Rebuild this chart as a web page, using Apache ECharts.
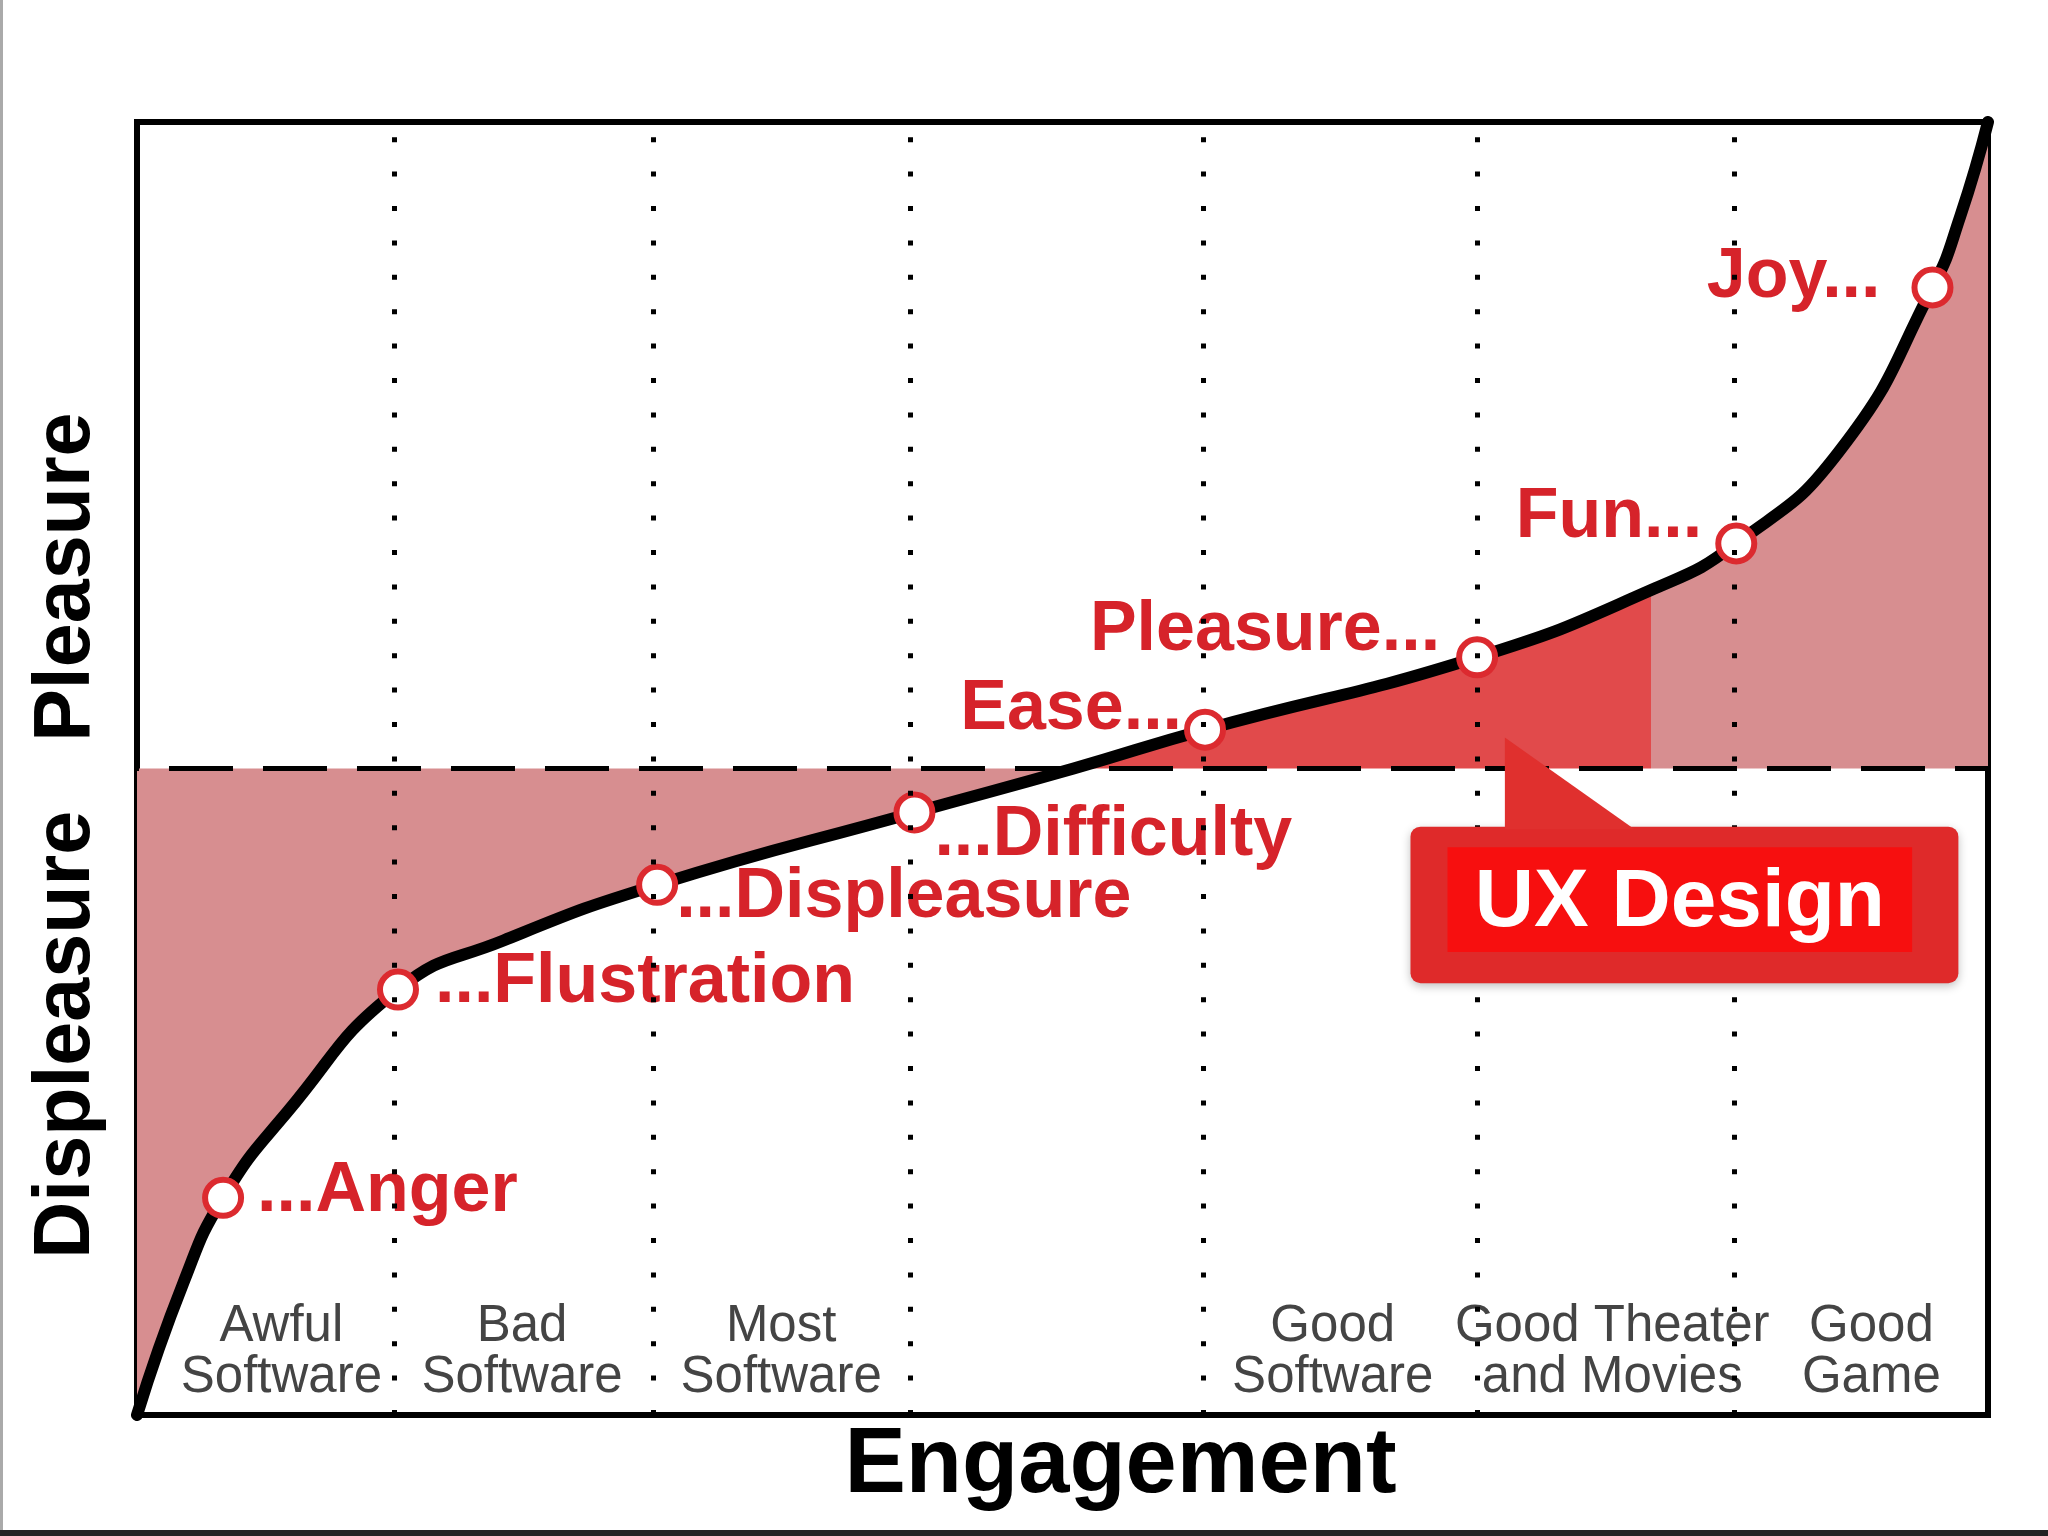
<!DOCTYPE html>
<html>
<head>
<meta charset="utf-8">
<style>
  html, body { margin: 0; padding: 0; background: #fff; }
  #chart { width: 2048px; height: 1536px; }
</style>
<script src="https://cdn.jsdelivr.net/npm/echarts@6/dist/echarts.min.js"></script>
</head>
<body>
<div id="chart"></div>
<script>
// engagement runs 0..100, pleasure -50..50
const curveX = [0, 2.5, 4.65, 8.1, 14.1, 19.8, 28.1, 42.0, 50.6, 57.7, 72.4, 81.8, 86.4, 92.0, 97.0, 98.5, 100]
const curveY = [-50, -39.8, -33.2, -26.6, -17.1, -13.3, -9.0, -3.4, 0, 3.0, 8.6, 13.8, 17.4, 24.6, 37.2, 42.7, 50]

const pointNames = ['...Anger', '...Flustration', '...Displeasure', '...Difficulty', 'Ease...', 'Pleasure...', 'Fun...', 'Joy...']
const pointX = [4.65, 14.1, 28.1, 42.0, 57.7, 72.4, 86.4, 97.0]
const pointY = [-33.2, -17.1, -9.0, -3.4, 3.0, 8.6, 17.4, 37.2]

// label placement next to each point (px from the point centre)
const labelAlign = ['left', 'left', 'left', 'left', 'right', 'right', 'right', 'right']
const labelDx = [34, 37, 19, 20, -23, -37, -34, -52]
const labelDy = [-6, -7, 13, 23, -20, -27, -26, -10]

const vLines = [13.9, 27.9, 41.8, 57.6, 72.4, 86.3]

const catNames = ['Awful\nSoftware', 'Bad\nSoftware', 'Most\nSoftware', 'Good\nSoftware', 'Good Theater\nand Movies', 'Good\nGame']
const catCenters = [7.8, 20.8, 34.8, 64.6, 79.7, 93.7]

const yNames = ['Pleasure', 'Displeasure']
const yNameAt = [14.8, -20.6]

// "UX Design" region under the curve
const uxStart = 50.6
const uxEnd = 81.8

// callout: [x0, x1, yTop, yBottom]
const calloutBox = [68.8, 98.4, -4.5, -16.6]
const calloutInner = [70.8, 95.9, -6.1, -14.2]
const calloutTip = [[73.9, 2.4], [73.9, -4.7], [80.9, -4.7]]
const calloutText = 'UX Design'

const font = '"Liberation Sans", Arial, sans-serif'
const pink = '#d78e90'
const red = '#e14a4b'

const curve = curveX.map((x, i) => [x, curveY[i]])

const points = pointX.map((x, i) => ({
  value: [x, pointY[i]],
  name: pointNames[i],
  label: {
    align: labelAlign[i],
    offset: [labelDx[i], labelDy[i]]
  }
}))

const chart = echarts.init(document.getElementById('chart'))

chart.setOption({
  animation: false,
  backgroundColor: '#fff',
  grid: {
    left: 137,
    right: 60,
    top: 122,
    bottom: 121,
    show: true,
    borderColor: '#000',
    borderWidth: 6,
    backgroundColor: 'transparent'
  },
  xAxis: {
    type: 'value',
    min: 0,
    max: 100,
    axisLine: { show: false },
    axisTick: { show: false },
    splitLine: { show: false },
    axisLabel: {
      inside: true,
      margin: 12,
      customValues: catCenters,
      formatter: (v) => catNames[catCenters.indexOf(v)] || '',
      color: '#444',
      fontFamily: font,
      fontSize: 51,
      lineHeight: 51
    },
    name: 'Engagement',
    nameLocation: 'middle',
    nameGap: 6,
    nameTextStyle: {
      color: '#000',
      fontFamily: font,
      fontWeight: 'bold',
      fontSize: 92,
      padding: [0, 0, 0, 116]
    }
  },
  yAxis: {
    type: 'value',
    min: -50,
    max: 50,
    axisLine: { show: false },
    axisTick: { show: false },
    splitLine: { show: false },
    axisLabel: {
      customValues: yNameAt,
      formatter: (v) => yNames[yNameAt.indexOf(v)] || '',
      rotate: 90,
      margin: 30,
      color: '#000',
      fontFamily: font,
      fontWeight: 'bold',
      fontSize: 79
    }
  },
  visualMap: {
    type: 'piecewise',
    show: false,
    seriesIndex: 0,
    dimension: 0,
    pieces: [
      { lt: uxStart, color: pink },
      { gte: uxStart, lt: uxEnd, color: red },
      { gte: uxEnd, color: pink }
    ]
  },
  series: [
    {
      // fill between the curve and the zero line
      type: 'line',
      data: curve,
      smooth: 0.5,
      symbol: 'none',
      lineStyle: { width: 0 },
      areaStyle: { origin: 'auto', opacity: 1 },
      silent: true,
      z: 1
    },
    {
      // zero line, with the dotted category dividers
      type: 'line',
      data: [[-3.35, 0], [100, 0]],
      clip: false,
      symbol: 'none',
      lineStyle: { color: '#000', width: 5, type: [64, 30] },
      markLine: {
        silent: true,
        symbol: ['none', 'none'],
        label: { show: false },
        lineStyle: { color: '#000', width: 5, type: [5, 29.4], cap: 'butt' },
        data: vLines.map(v => ({ xAxis: v }))
      },
      silent: true,
      z: 2
    },
    {
      type: 'line',
      data: curve,
      smooth: 0.5,
      symbol: 'none',
      lineStyle: { color: '#000', width: 12, cap: 'round' },
      silent: true,
      z: 3
    },
    {
      type: 'scatter',
      data: points,
      symbol: 'circle',
      symbolSize: 36,
      itemStyle: { color: '#fff', borderColor: '#dc2a2f', borderWidth: 6, opacity: 1 },
      label: {
        show: true,
        position: 'inside',
        verticalAlign: 'middle',
        formatter: '{b}',
        color: '#d6232a',
        textBorderWidth: 0,
        fontFamily: font,
        fontWeight: 'bold',
        fontSize: 70
      },
      emphasis: { disabled: true },
      z: 4
    },
    {
      type: 'custom',
      data: [[calloutBox[0], calloutBox[2]]],
      silent: true,
      z: 5,
      renderItem: function (params, api) {
        const tl = api.coord([calloutBox[0], calloutBox[2]])
        const br = api.coord([calloutBox[1], calloutBox[3]])
        const itl = api.coord([calloutInner[0], calloutInner[2]])
        const ibr = api.coord([calloutInner[1], calloutInner[3]])
        const tip = calloutTip.map(p => api.coord(p))
        return {
          type: 'group',
          children: [
            {
              type: 'rect',
              shape: { x: tl[0], y: tl[1], width: br[0] - tl[0], height: br[1] - tl[1], r: 10 },
              style: { fill: '#df2a2a', shadowBlur: 10, shadowColor: 'rgba(0,0,0,0.25)', shadowOffsetY: 3 }
            },
            {
              type: 'polygon',
              shape: { points: tip },
              style: { fill: '#e0302e' }
            },
            {
              type: 'rect',
              shape: { x: itl[0], y: itl[1], width: ibr[0] - itl[0], height: ibr[1] - itl[1] },
              style: { fill: '#f70f0f' }
            },
            {
              type: 'text',
              x: (itl[0] + ibr[0]) / 2,
              y: (itl[1] + ibr[1]) / 2 + 4,
              style: {
                text: calloutText,
                fill: '#fff',
                font: 'bold 82px ' + font,
                align: 'center',
                verticalAlign: 'middle'
              }
            }
          ]
        }
      }
    }
  ],
  graphic: [
    { type: 'rect', left: 0, top: 0, shape: { width: 3, height: 1536 }, style: { fill: '#aaa' } },
    { type: 'rect', left: 0, top: 1530, shape: { width: 2048, height: 6 }, style: { fill: '#222' } }
  ]
})
</script>
</body>
</html>
